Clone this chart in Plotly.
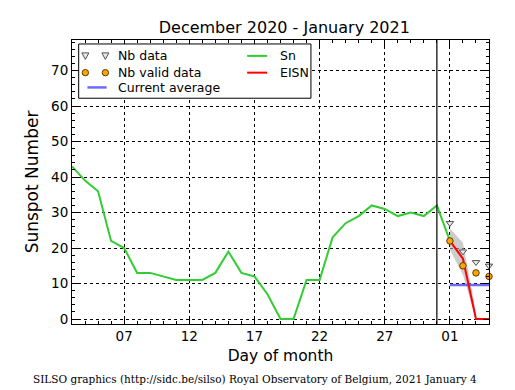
import plotly.graph_objects as go

# ---- data ----
sn_dates = ["2020-12-%02d" % d for d in range(3, 32)] + ["2021-01-01"]
sn_values = [43, 39, 36, 22, 20, 13, 13, 12, 11, 11, 11, 13, 19, 13, 12, 7, 0, 0,
             11, 11, 23, 27, 29, 32, 31, 29, 30, 29, 32, 22]

jan_dates = ["2021-01-01", "2021-01-02", "2021-01-03", "2021-01-04"]
eisn_values = [22, 17, 0, 0]
nb_data = [27, 19, 16, 15]
nb_valid = [22, 15, 13, 12]

band_dates = ["2021-01-01", "2021-01-02", "2021-01-03"]
band_upper = [25.5, 21.5, 2]
band_lower = [19.5, 12.5, 0]

avg_dates = ["2021-01-01", "2021-01-04"]
avg_values = [9.6, 9.6]

month_end = "2020-12-31"
x_range = ["2020-12-03", "2021-01-04"]
y_range = [-1.4, 78.6]

title = "December 2020 - January 2021"
footer = "SILSO graphics (http://sidc.be/silso) Royal Observatory of Belgium, 2021 January 4"

GREEN = "rgb(50,205,50)"
RED = "rgb(255,0,0)"
BLUE = "rgba(90,90,255,0.9)"
ORANGE = "rgb(255,165,0)"
TRI_FILL = "rgb(235,235,235)"
TRI_EDGE = "rgb(80,80,80)"
CIRC_EDGE = "rgb(90,60,0)"
FONT = "DejaVu Sans"

# plot-area size in pixels (for legend glyph sizing in paper units)
PW, PH = 417.5, 284.0

fig = go.Figure()

# error band
fig.add_trace(go.Scatter(
    x=band_dates + band_dates[::-1], y=band_upper + band_lower[::-1],
    fill="toself", fillcolor="rgba(170,170,170,0.6)", line=dict(width=0),
    mode="lines", hoverinfo="skip", showlegend=False))

fig.add_trace(go.Scatter(x=sn_dates, y=sn_values, mode="lines",
                         line=dict(color=GREEN, width=2), showlegend=False))
fig.add_trace(go.Scatter(x=avg_dates, y=avg_values, mode="lines",
                         line=dict(color=BLUE, width=2.5), showlegend=False))
fig.add_trace(go.Scatter(x=jan_dates, y=eisn_values, mode="lines",
                         line=dict(color=RED, width=2), showlegend=False))
fig.add_trace(go.Scatter(x=jan_dates, y=nb_data, mode="markers",
                         marker=dict(symbol="triangle-down", size=6.5, color=TRI_FILL,
                                     line=dict(color=TRI_EDGE, width=1)),
                         showlegend=False, cliponaxis=False))
fig.add_trace(go.Scatter(x=jan_dates, y=nb_valid, mode="markers",
                         marker=dict(symbol="circle", size=6.5, color=ORANGE,
                                     line=dict(color=CIRC_EDGE, width=1)),
                         showlegend=False, cliponaxis=False))

# month boundary
fig.add_vline(x=month_end, line=dict(color="black", width=1.2))

# ---- manual legend (two columns), all drawn above the grid ----
fig.add_shape(type="rect", xref="paper", yref="paper",
              x0=0.016, x1=0.573, y0=0.795, y1=0.986,
              line=dict(color="black", width=1), fillcolor="white", layer="above")
rows = [0.944, 0.885, 0.833]
glyph_x = [0.032, 0.080]
px, py = 1 / PW, 1 / PH
for cx in glyph_x:
    cy = rows[0]
    fig.add_shape(type="path", xref="paper", yref="paper", layer="above",
                  path=(f"M {cx - 3.5 * px} {cy + 3 * py} L {cx + 3.5 * px} {cy + 3 * py} "
                        f"L {cx} {cy - 3.5 * py} Z"),
                  fillcolor=TRI_FILL, line=dict(color=TRI_EDGE, width=1))
    cy = rows[1]
    fig.add_shape(type="circle", xref="paper", yref="paper", layer="above",
                  x0=cx - 3.2 * px, x1=cx + 3.2 * px, y0=cy - 3.2 * py, y1=cy + 3.2 * py,
                  fillcolor=ORANGE, line=dict(color=CIRC_EDGE, width=1))
fig.add_shape(type="line", xref="paper", yref="paper", x0=0.037, x1=0.083,
              y0=rows[2], y1=rows[2], line=dict(color=BLUE, width=2.5), layer="above")
fig.add_shape(type="line", xref="paper", yref="paper", x0=0.42, x1=0.468,
              y0=rows[0], y1=rows[0], line=dict(color=GREEN, width=2), layer="above")
fig.add_shape(type="line", xref="paper", yref="paper", x0=0.42, x1=0.468,
              y0=rows[1], y1=rows[1], line=dict(color=RED, width=2), layer="above")
for txt, xx, yy in [("Nb data", 0.106, rows[0]), ("Nb valid data", 0.106, rows[1]),
                    ("Current average", 0.106, rows[2]), ("Sn", 0.495, rows[0]),
                    ("EISN", 0.495, rows[1])]:
    fig.add_annotation(text=txt, x=xx, y=yy, xref="paper", yref="paper",
                       xanchor="left", yanchor="middle", showarrow=False,
                       font=dict(family=FONT, size=12.5, color="black"))

fig.add_annotation(text=footer, x=0.4395, y=-0.194, xref="paper", yref="paper",
                   xanchor="center", yanchor="middle", showarrow=False,
                   font=dict(family="DejaVu Serif", size=10.5, color="black"))

axis_common = dict(showline=True, linecolor="black", linewidth=1, mirror="ticks",
                   ticks="inside", ticklen=6, tickcolor="black", zeroline=False,
                   showgrid=True, gridcolor="black", griddash="dot", gridwidth=0.8,
                   tickfont=dict(family=FONT, size=13.5, color="black"))

# page body has an 8px default margin: size the figure to fit the 515x390 window
fig.update_layout(
    width=507, height=382,
    margin=dict(l=63.5, r=26, t=32, b=66),
    paper_bgcolor="white", plot_bgcolor="white",
    title=dict(text=title, x=0.545, xanchor="center", y=0.950, yanchor="middle",
               font=dict(family=FONT, size=16, color="black")),
    xaxis=dict(type="date", range=x_range, tickformat="%d",
               tick0="2020-12-07", dtick=5 * 86400000,
               minor=dict(dtick=86400000, tick0="2020-12-03", ticks="inside",
                          ticklen=3, tickcolor="black", showgrid=False),
               title=dict(text="Day of month", standoff=6,
                          font=dict(family=FONT, size=15.5, color="black")),
               **axis_common),
    yaxis=dict(range=y_range, tick0=0, dtick=10,
               minor=dict(dtick=2, ticks="inside", ticklen=3, tickcolor="black",
                          showgrid=False),
               title=dict(text="Sunspot Number", standoff=8,
                          font=dict(family=FONT, size=17, color="black")),
               **axis_common),
    showlegend=False,
)

fig.write_html("out.html")
